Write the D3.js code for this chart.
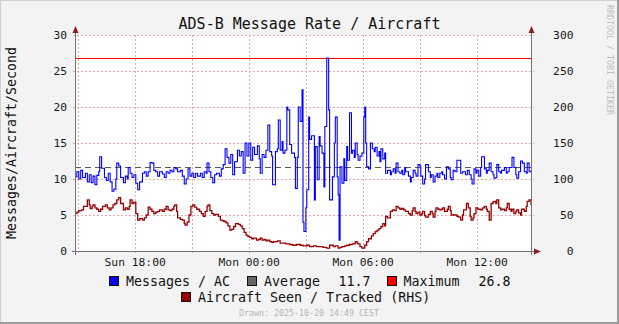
<!DOCTYPE html>
<html>
<head>
<meta charset="utf-8">
<script src="https://cdn.jsdelivr.net/npm/d3@7"></script>
<style>
  html, body { margin: 0; padding: 0; background: #f3f3f3; }
  svg { display: block; }
  text { font-family: "DejaVu Sans Mono", monospace; }
</style>
</head>
<body>
<svg id="chart" width="619" height="324"></svg>
<script>
// ---- data -------------------------------------------------------------
// Time window: Sun 19 Oct 2025 14:50 -> Mon 20 Oct 2025 14:50 (shown as local clock time)
const windowStart = Date.UTC(2025, 9, 19, 14, 50);
const windowMinutes = 1440;

// Messages per aircraft per second (left axis), minutes after window start
const msgMinutes = [
  0,6,12,18,24,33,39,45,51,57,
  63,69,75,78,84,93,99,105,111,117,
  123,129,132,138,144,153,159,165,168,174,
  180,186,192,198,204,213,219,225,231,237,
  243,249,255,261,267,276,282,288,294,300,
  306,312,318,324,333,339,345,351,357,363,
  369,375,381,387,396,402,408,414,417,423,
  429,435,441,447,456,462,468,474,480,486,
  492,498,504,513,519,525,531,537,543,549,
  555,561,567,576,582,585,591,597,603,609,
  615,621,624,633,639,642,648,654,657,663,
  669,672,678,684,693,696,702,705,711,717,
  720,723,729,732,738,741,747,756,759,765,
  771,774,780,786,789,795,801,804,813,819,
  822,828,831,834,837,843,849,852,858,861,
  867,873,876,882,885,891,894,900,906,912,
  915,918,921,927,933,939,945,948,954,960,
  963,966,972,978,981,987,996,999,1005,1011,
  1014,1020,1026,1032,1035,1041,1044,1053,1059,1062,
  1068,1074,1077,1083,1089,1092,1098,1104,1107,1116,
  1122,1125,1131,1137,1143,1146,1152,1158,1161,1167,
  1173,1179,1185,1188,1194,1200,1206,1212,1218,1224,
  1233,1239,1245,1251,1254,1260,1266,1269,1275,1281,
  1284,1293,1299,1302,1308,1314,1320,1323,1329,1332,
  1338,1344,1347,1356,1362,1365,1371,1377,1380,1386,
  1392,1395,1401,1407,1413,1419,1425,1428,1434,1440
];
const msgValues = [
  10.3,11.0,10.0,11.2,10.2,10.8,9.6,10.6,9.5,10.4,
  9.2,10.5,11.0,13.1,11.5,10.2,9.8,10.8,9.6,8.3,
  8.6,10.0,12.2,11.8,10.2,9.5,10.4,10.0,11.6,10.8,
  10.2,10.6,9.4,8.5,9.6,10.8,11.0,10.4,11.0,12.3,
  12.2,11.2,11.0,10.4,11.0,10.7,10.2,11.0,10.8,11.2,
  11.0,11.6,11.4,11.0,11.2,10.4,9.3,10.0,11.4,10.4,
  10.8,10.2,10.8,10.4,10.8,10.2,11.0,10.8,12.2,11.0,
  10.2,9.5,10.6,10.8,10.4,11.4,12.0,14.2,13.0,12.2,
  13.4,10.6,12.4,14.0,13.2,13.8,10.8,15.0,13.2,15.0,
  12.6,14.4,13.4,14.6,12.8,10.8,13.4,13.0,14.0,17.5,
  13.8,13.2,9.2,13.8,14.2,18.2,14.0,15.2,13.6,14.0,
  20.0,19.6,14.8,13.6,13.0,8.7,13.0,20.0,18.0,22.4,
  4.0,2.7,6.0,8.5,18.6,15.5,16.0,7.1,14.5,9.9,
  15.9,14.6,13.6,8.9,17.3,26.8,19.6,7.1,10.3,15.0,
  18.6,10.3,7.8,1.5,11.7,9.4,12.8,9.8,14.5,12.6,
  19.2,13.6,14.0,13.0,15.0,13.4,12.6,13.2,13.6,18.6,
  20.0,15.0,11.7,11.4,15.0,14.2,13.8,14.4,13.2,13.8,
  12.4,14.2,12.8,13.6,10.8,11.2,10.6,11.0,11.4,10.8,
  12.2,11.0,10.8,11.2,10.6,11.6,11.0,10.4,9.6,10.2,
  11.2,10.8,10.4,12.0,11.8,10.4,9.3,10.0,12.0,11.0,
  10.2,10.6,9.6,10.4,10.8,10.2,10.8,11.0,10.6,10.0,
  11.7,11.4,10.2,9.9,11.2,11.0,12.6,12.6,10.8,11.0,
  10.6,11.2,10.6,10.0,9.3,11.4,10.8,11.2,10.4,11.6,
  13.1,11.4,10.8,11.2,12.2,11.0,10.6,10.1,10.2,12.0,
  11.0,10.8,11.2,11.6,10.8,11.0,11.6,11.6,13.0,11.6,
  10.6,10.1,11.0,12.5,12.2,11.0,10.8,12.2,11.0,11.2
];

// Aircraft seen / tracked (right axis), minutes after window start
const acMinutes = [
  0,6,12,21,27,39,45,48,54,57,
  63,69,75,81,87,96,102,108,114,120,
  126,132,138,144,153,159,165,171,174,180,
  186,192,198,204,213,219,225,231,237,243,
  249,255,261,267,276,282,288,294,300,306,
  312,315,321,324,333,339,345,348,354,360,
  366,372,378,384,393,399,405,411,417,420,
  426,432,438,444,453,459,465,471,477,483,
  489,495,501,507,516,522,528,534,540,546,
  552,558,564,573,579,585,591,597,603,609,
  615,621,627,639,648,657,666,678,687,699,
  711,720,732,741,753,762,774,783,795,804,
  816,822,831,837,843,852,858,867,876,885,
  891,894,900,906,909,915,921,927,936,942,
  948,954,960,966,972,978,981,987,996,1002,
  1008,1014,1020,1026,1032,1038,1044,1053,1059,1065,
  1068,1074,1077,1083,1089,1095,1098,1104,1107,1116,
  1122,1128,1131,1137,1140,1146,1152,1158,1161,1167,
  1176,1179,1185,1188,1194,1200,1206,1212,1218,1224,
  1227,1236,1242,1248,1251,1257,1260,1266,1272,1281,
  1287,1293,1299,1302,1308,1314,1320,1323,1329,1332,
  1338,1344,1347,1356,1362,1365,1371,1377,1380,1386,
  1392,1395,1401,1407,1410,1419,1425,1428,1434,1440
];
const acValues = [
  52,54,56,57,62,71,64,59,62,64,
  60,58,55,58,62,64,60,57,60,64,
  66,71,74,66,57,60,58,62,71,66,
  68,52,43,45,43,46,50,61,58,55,
  52,54,55,57,55,58,62,57,56,58,
  62,64,55,46,44,43,38,36,40,50,
  62,64,61,58,55,52,48,55,62,64,
  56,52,50,51,48,43,42,41,39,35,
  29,30,34,38,37,35,31,26,22,20,
  19,17,18,15,16,18,15,16,14,15,
  13,12,13,14,11,11,10,9,8,9,
  8,7,8,6,7,6,6,5,4,8,
  6,7,4,5,6,7,8,9,10,13,
  11,10,6,4,4,8,13,17,21,24,
  27,29,31,34,38,35,48,46,55,57,
  56,62,60,58,59,57,55,52,50,56,
  60,55,52,54,50,52,55,49,47,51,
  55,52,47,55,60,58,57,58,60,55,
  58,62,56,50,50,50,48,47,43,50,
  57,66,60,48,43,46,52,60,58,57,
  60,62,58,55,43,66,68,69,66,71,
  60,57,58,56,60,66,58,55,58,52,
  55,57,53,50,58,55,62,69,71,64
];

// Summary values printed in the legend
const msgAverage = [11.7];
const msgMaximum = [26.8];

// Axis ticks
const leftTicks = [0, 5, 10, 15, 20, 25, 30];
const rightTicks = [0, 50, 100, 150, 200, 250, 300];
const timeLabelTicks = [
  { t: Date.UTC(2025, 9, 19, 18, 0), label: "Sun 18:00" },
  { t: Date.UTC(2025, 9, 20, 0, 0),  label: "Mon 00:00" },
  { t: Date.UTC(2025, 9, 20, 6, 0),  label: "Mon 06:00" },
  { t: Date.UTC(2025, 9, 20, 12, 0), label: "Mon 12:00" }
];

// ---- layout -----------------------------------------------------------
const W = 619, H = 324;
const plot = { left: 75, right: 531, top: 35, bottom: 251 };

const svg = d3.select("#chart");

const x = d3.scaleUtc()
  .domain([new Date(windowStart), new Date(windowStart + windowMinutes * 60000)])
  .range([plot.left, plot.right]);
const y = d3.scaleLinear().domain([0, 30]).range([plot.bottom, plot.top]);
const y2 = d3.scaleLinear().domain([0, 300]).range([plot.bottom, plot.top]);

const toDate = m => new Date(windowStart + m * 60000);

// page background with bevelled frame
svg.append("rect").attr("width", W).attr("height", H).attr("fill", "#f3f3f3");
svg.append("path").attr("d", `M0.5,${H} V0.5 H${W}`)
  .attr("fill", "none").attr("stroke", "#cfcfcf").attr("stroke-width", 1);
svg.append("path").attr("d", `M0,${H - 1} H${W - 1} V0`)
  .attr("fill", "none").attr("stroke", "#9c9c9c").attr("stroke-width", 2);

// canvas
svg.append("rect")
  .attr("x", plot.left).attr("y", plot.top)
  .attr("width", plot.right - plot.left).attr("height", plot.bottom - plot.top)
  .attr("fill", "#ffffff");

const grid = svg.append("g")
  .attr("stroke", "#f0a6a6").attr("stroke-dasharray", "2,2")
  .attr("shape-rendering", "crispEdges");

// horizontal grid
leftTicks.filter(v => v > 0).forEach(v => {
  const yy = Math.round(y(v)) + 0.5;
  grid.append("line").attr("x1", plot.left - 2).attr("x2", plot.right + 3)
    .attr("y1", yy).attr("y2", yy);
});
// vertical grid, every 3 hours
d3.utcHour.every(3).range(x.domain()[0], x.domain()[1]).forEach(t => {
  const xx = Math.round(x(t)) + 0.5;
  grid.append("line").attr("x1", xx).attr("x2", xx)
    .attr("y1", plot.top).attr("y2", plot.bottom + 4);
});

// average (dashed) and maximum rules
svg.append("line")
  .attr("x1", plot.left).attr("x2", plot.right)
  .attr("y1", Math.round(y(msgAverage[0])) + 0.5).attr("y2", Math.round(y(msgAverage[0])) + 0.5)
  .attr("stroke", "#5a5a5a").attr("stroke-dasharray", "6,4")
  .attr("shape-rendering", "crispEdges");
svg.append("line")
  .attr("x1", plot.left).attr("x2", plot.right)
  .attr("y1", Math.round(y(msgMaximum[0])) + 0.5).attr("y2", Math.round(y(msgMaximum[0])) + 0.5)
  .attr("stroke", "#ff0000").attr("stroke-width", 1.2)
  .attr("shape-rendering", "crispEdges");

// series
const msgData = msgMinutes.map((m, i) => ({ t: toDate(m), v: msgValues[i] }));
const acData = acMinutes.map((m, i) => ({ t: toDate(m), v: acValues[i] }));

svg.append("path").datum(acData)
  .attr("fill", "none").attr("stroke", "#990000").attr("stroke-width", 1.3)
  .attr("d", d3.line().x(d => x(d.t)).y(d => y2(d.v)).curve(d3.curveStepAfter));

svg.append("path").datum(msgData)
  .attr("fill", "none").attr("stroke", "#0000ff").attr("stroke-width", 1.1)
  .attr("d", d3.line().x(d => x(d.t)).y(d => y(d.v)).curve(d3.curveStepAfter));

// axes lines
const axisColor = "#737373", arrowColor = "#8b1c1c";
const axes = svg.append("g").attr("stroke", axisColor).attr("shape-rendering", "crispEdges");
axes.append("line").attr("x1", plot.left + 0.5).attr("x2", plot.left + 0.5)
  .attr("y1", plot.bottom + 4).attr("y2", plot.top - 6);
axes.append("line").attr("x1", plot.right + 0.5).attr("x2", plot.right + 0.5)
  .attr("y1", plot.bottom + 4).attr("y2", plot.top - 6);
axes.append("line").attr("x1", plot.left - 3).attr("x2", plot.right + 7)
  .attr("y1", plot.bottom + 0.5).attr("y2", plot.bottom + 0.5);

// arrow heads
const arrows = svg.append("g").attr("fill", arrowColor);
[plot.left + 0.5, plot.right + 0.5].forEach(ax => {
  arrows.append("path").attr("d", `M${ax - 3},${plot.top - 2} L${ax},${plot.top - 9} L${ax + 3},${plot.top - 2} Z`);
});
arrows.append("path").attr("d",
  `M${plot.right + 3},${plot.bottom - 3 + 0.5} L${plot.right + 10},${plot.bottom + 0.5} L${plot.right + 3},${plot.bottom + 3.5} Z`);

// tick labels
const tickFont = 11.3;
svg.append("g").selectAll("text").data(leftTicks).join("text")
  .attr("x", 67).attr("y", d => y(d) + 4)
  .attr("text-anchor", "end").attr("font-size", tickFont).attr("fill", "#1a1a1a")
  .text(d => d);
svg.append("g").selectAll("text").data(rightTicks).join("text")
  .attr("x", 573.5).attr("y", d => y2(d) + 4)
  .attr("text-anchor", "end").attr("font-size", tickFont).attr("fill", "#1a1a1a")
  .text(d => d);
svg.append("g").selectAll("text").data(timeLabelTicks).join("text")
  .attr("x", d => x(new Date(d.t))).attr("y", 266)
  .attr("text-anchor", "middle").attr("font-size", tickFont).attr("fill", "#1a1a1a")
  .text(d => d.label);

// title and axis title
svg.append("text").attr("x", W / 2).attr("y", 29)
  .attr("text-anchor", "middle").attr("font-size", 15).attr("fill", "#111")
  .text("ADS-B Message Rate / Aircraft");
svg.append("text")
  .attr("transform", `translate(16,${(plot.top + plot.bottom) / 2}) rotate(-90)`)
  .attr("text-anchor", "middle").attr("font-size", 13.3).attr("fill", "#111")
  .text("Messages/Aircraft/Second");

// side watermark
svg.append("text")
  .attr("transform", "translate(607,5) rotate(90)")
  .attr("font-size", 8.3).attr("fill", "#bdbdbd")
  .text("RRDTOOL / TOBI OETIKER");

// legend
const legendFont = 13.3;
const legendItems = [
  { box: "#0000ff", bx: 109, row: 0, label: "Messages / AC", lx: 126 },
  { box: "#666666", bx: 247, row: 0, label: "Average", lx: 264, value: msgAverage[0], vx: 338.5 },
  { box: "#ff0000", bx: 387, row: 0, label: "Maximum", lx: 403.5, value: msgMaximum[0], vx: 478.5 },
  { box: "#990000", bx: 181, row: 1, label: "Aircraft Seen / Tracked (RHS)", lx: 198 }
];
const rowY = [281, 297];
const legend = svg.append("g");
legendItems.forEach(it => {
  const cy = rowY[it.row];
  legend.append("rect")
    .attr("x", it.bx + 0.5).attr("y", cy - 5 + 0.5).attr("width", 9).attr("height", 9)
    .attr("fill", it.box).attr("stroke", "#111").attr("stroke-width", 1)
    .attr("shape-rendering", "crispEdges");
  legend.append("text").attr("x", it.lx).attr("y", cy + 5)
    .attr("font-size", legendFont).attr("fill", "#111").text(it.label);
  if (it.value !== undefined) {
    legend.append("text").attr("x", it.vx).attr("y", cy + 5)
      .attr("font-size", legendFont).attr("fill", "#111").text(d3.format(".1f")(it.value));
  }
});

svg.append("text").attr("x", 309).attr("y", 316)
  .attr("text-anchor", "middle").attr("font-size", 8.3).attr("fill", "#b3b3b3")
  .text("Drawn: 2025-10-20 14:49 CEST");
</script>
</body>
</html>
